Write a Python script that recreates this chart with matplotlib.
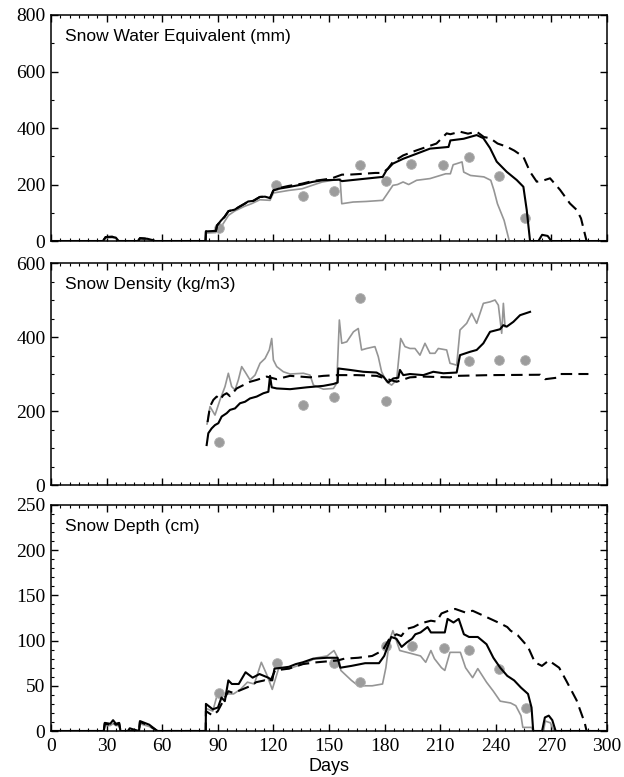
import matplotlib as mpl

mpl.use("Agg")

import matplotlib.pyplot as plt
from matplotlib.ticker import MultipleLocator

mpl.rcParams.update(
    {
        "font.family": "Liberation Serif",
        "font.size": 14,
        "axes.linewidth": 1.1,
        "xtick.direction": "in",
        "ytick.direction": "in",
        "xtick.top": True,
        "ytick.right": True,
        "xtick.major.size": 5,
        "ytick.major.size": 5,
        "xtick.minor.size": 2.5,
        "ytick.minor.size": 2.5,
        "xtick.major.width": 1.0,
        "ytick.major.width": 1.0,
        "xtick.minor.width": 0.8,
        "ytick.minor.width": 0.8,
    }
)

SANS = "Liberation Sans"
GRAY = "#959595"
DOT = "#9c9c9c"

# ---- Snow water equivalent (mm) ----
swe_solid_days = [0, 28, 29.5, 33, 35, 36.5, 47, 48, 52, 55, 56, 83.4, 83.6, 89, 89.6, 91.8, 93.6,
                  95.8, 99.1, 101.3, 104.5, 106.4, 109.1, 112.7, 115.5, 118.2, 120, 122.7, 128.2,
                  135.5, 140.9, 146.4, 155.5, 157, 179, 181, 184.5, 190, 197.3, 204.5, 214.5, 215.5,
                  222.7, 229.7, 233.3, 236.9, 240.5, 245.9, 251.3, 254.9, 256.7, 258.5, 263, 265,
                  268, 270, 300]
swe_solid_vals = [0, 0, 14, 15, 12, 0, 0, 10, 8, 3, 0, 0, 34, 36, 55, 73, 85,
                  106, 111, 120, 132, 140, 142, 156, 157, 152, 179, 185, 191,
                  200, 209, 215, 217, 212, 227, 250, 274, 291, 309, 327, 333, 356,
                  362, 375, 364, 329, 281, 245, 216, 192, 110, 0, 0, 22,
                  18, 0, 0]

swe_dash_days = [0, 28, 29.5, 33, 35, 36.5, 47, 48, 52, 55, 56, 83.4, 83.6, 89, 89.6, 91.8, 93.6,
                 95.8, 99.1, 101.3, 104.5, 106.4, 109.1, 112.7, 115.5, 118.2, 120, 122.7, 128.2,
                 135.5, 140.9, 150, 152, 157, 161, 166, 175, 179, 181.8, 184.5, 190, 197.3, 208,
                 213.5, 215.5, 220.7, 225, 229.7, 233.6, 236.9, 241, 245.9, 250, 254.9, 258.5,
                 262.1, 266, 269.3, 274.7, 280, 283.7, 286, 289, 300]
swe_dash_vals = [0, 0, 14, 15, 12, 0, 0, 10, 8, 3, 0, 0, 34, 36, 55, 73, 85,
                 106, 111, 120, 132, 140, 142, 156, 157, 152, 179, 187, 195,
                 203, 212, 220, 223, 235, 235, 237, 241, 241, 256, 280, 303, 321, 345,
                 381, 378, 387, 380, 387, 368, 364, 345, 334, 320, 298, 245,
                 210, 215, 222, 181, 133, 110, 80, 0, 0]

swe_gray_days = [0, 28, 29.5, 33, 35, 36.5, 47, 48, 52, 55, 56, 83.4, 83.6, 89, 91.8, 95.8, 99.1,
                 104.5, 108.2, 112.7, 118.2, 120, 128.2, 135.5, 140.9, 146.4, 154, 156, 156.9,
                 163, 170, 179, 180.9, 184.5, 187, 190, 193, 197.3, 204.5, 213, 215.5, 217, 219,
                 221.8, 222.7, 226.4, 233.6, 237.3, 239, 240.9, 244.5, 247.3, 300]
swe_gray_vals = [0, 0, 11, 12, 9, 0, 0, 8, 6, 2, 0, 0, 28, 30, 50, 91, 106,
                 123, 132, 146, 144, 170, 179, 185, 197, 209, 217, 220, 132,
                 138, 140, 144, 162, 197, 200, 209, 200, 215, 221, 238, 238, 270, 274,
                 280, 244, 232, 227, 215, 180, 132, 73, 0, 0]

swe_obs_days = [90.7, 121.4, 135.9, 152.7, 166.7, 180.8, 194.4, 211.4, 225.7, 241.6, 255.9]
swe_obs_vals = [47, 198, 159, 177, 269, 212, 273, 270, 299, 230, 83]

# ---- Snow density (kg/m3) ----
den_solid_days = [84, 84.9, 86.7, 88.5, 90.3, 92.1, 94.8, 96.6, 99.3, 102, 104.7, 107.4, 111,
                  114.6, 117.3, 118.2, 119.1, 121.8, 129, 138, 147, 152.4, 154.7, 155, 161.4,
                  168.5, 175.7, 179.3, 182, 184.7, 187.4, 188.3, 190.1, 193.7, 200.9, 206.3,
                  211.7, 218.9, 220.7, 226.1, 229.7, 233.3, 236.9, 242.3, 244.1, 245.9, 249.5,
                  253.1, 258.5]
den_solid_vals = [108, 140, 153, 162, 167, 185, 194, 203, 207, 221, 225, 234, 239,
                  248, 252, 295, 264, 261, 259, 264, 268, 273, 277, 315, 311,
                  306, 304, 293, 277, 288, 290, 311, 297, 300, 297, 306,
                  302, 304, 351, 360, 365, 383, 414, 421, 432, 428, 441,
                  459, 468]

den_dash_days = [84.5, 85.8, 87.6, 89.4, 91.2, 93, 94.8, 96.6, 100.2, 103.8, 107.4, 111, 116.4,
                 121.8, 129, 139.8, 147, 154.2, 165, 175.7, 183, 186.5, 193.7, 200.9, 215.3,
                 218.9, 236.9, 264, 266.6, 273, 274.7, 290]
den_dash_vals = [170, 212, 230, 239, 230, 243, 248, 240, 261, 270, 279, 284, 293,
                 286, 295, 291, 295, 297, 297, 295, 284, 279, 291, 293, 291,
                 295, 297, 298, 286, 290, 300, 300]

den_gray_days = [84.2, 85.8, 88.5, 91.2, 93.9, 95.7, 97.5, 99.3, 101.1, 102.9, 104.7, 107.4,
                 110.1, 112.8, 115.5, 117.8, 119.1, 120, 121.8, 125.4, 129, 136.2, 139.8, 141.6,
                 147, 152.4, 154.2, 155.6, 156.9, 159.6, 163.2, 165.8, 167.6, 170.3, 174.8,
                 176.6, 178.4, 181.1, 183.8, 186.5, 188.7, 191, 193.7, 196.4, 199.1, 201.8,
                 204.5, 207.2, 209, 213.5, 215.3, 218.9, 220.7, 224.3, 227, 229.7, 233.3, 236.9,
                 239.6, 241.4, 243.2, 244.1, 245]
den_gray_vals = [165, 212, 189, 230, 266, 302, 266, 257, 284, 320, 306, 284,
                 297, 329, 342, 365, 396, 338, 320, 306, 300, 302, 297, 270,
                 259, 261, 275, 446, 383, 387, 414, 423, 365, 369, 374,
                 347, 306, 279, 270, 284, 396, 374, 369, 369, 351, 383,
                 356, 356, 369, 365, 329, 324, 419, 437, 464, 437, 491, 495,
                 500, 486, 410, 491, 428]

den_obs_days = [90.8, 135.9, 152.7, 166.7, 180.8, 225.7, 241.6, 255.9]
den_obs_vals = [117, 216, 238, 505, 227, 335, 338, 338]

# ---- Snow depth (cm) ----
dep_solid_days = [0, 28.5, 29, 32, 33.5, 35, 36.8, 37.5, 41.5, 42.5, 44, 47.5, 48, 53, 57.4,
                  83.5, 83.6, 87.3, 90.1, 92, 93.8, 95.7, 97.6, 101.3, 105, 108.8, 112.5, 117.2,
                  119.4, 120.6, 124.7, 128.4, 132.1, 135.9, 141.5, 149, 154.6, 156.1, 162.1,
                  169.5, 177, 179.8, 183.6, 186.4, 189.2, 192, 194.8, 196.6, 199.4, 203.2, 205,
                  212.5, 214, 217.2, 220, 222.8, 225.6, 230.3, 235, 238.7, 242.4, 246.2, 249.9,
                  253.6, 257.4, 259.3, 260.2, 265, 266.5, 268.6, 270.5, 272.3, 300]
dep_solid_vals = [0, 0, 9, 8, 12, 8, 9, 0, 0, 3, 2, 0, 11, 7, 0,
                  0, 30, 24, 26, 37, 33, 56, 52, 52, 65, 59, 63, 59,
                  56, 69, 70, 71, 74, 76, 80, 81, 81, 70, 72,
                  75, 75, 83, 104, 102, 93, 98, 102, 107, 109, 115, 109,
                  109, 124, 120, 124, 107, 104, 104, 96, 81, 70, 61, 56,
                  48, 41, 26, 0, 0, 15, 17, 12, 0, 0]

dep_dash_days = [0, 28.5, 29, 32, 33.5, 35, 36.8, 37.5, 47.5, 48, 53, 57.4, 83.5, 83.6, 87.3,
                 90, 95.7, 98.5, 107.9, 110.7, 115.3, 118.1, 120.9, 128.4, 135.9, 143.4, 154.6,
                 158.3, 165.8, 173.3, 178.9, 182.6, 186.4, 189, 192, 195.7, 199.4, 205, 208,
                 210.7, 214.4, 218.1, 223.7, 227.5, 235, 242.4, 246.2, 248, 251.8, 257.4, 261.1,
                 264.9, 268.6, 274.2, 278.2, 283.6, 288, 289, 300]
dep_dash_vals = [0, 0, 8, 7, 10, 7, 8, 0, 0, 10, 6, 0, 0, 22, 17,
                 22, 44, 42, 50, 54, 56, 54, 67, 69, 74, 76, 78,
                 80, 81, 83, 89, 102, 107, 105, 113, 115, 119, 122, 121,
                 130, 133, 135, 131, 133, 126, 119, 115, 111, 106, 93, 76,
                 72, 78, 70, 55, 34, 9, 0, 0]

dep_gray_days = [0, 28.5, 29, 32, 33.5, 35, 36.8, 37.5, 47.5, 48, 53, 57.4, 83.5, 83.6, 87.3,
                 90.1, 94.8, 98.5, 102.2, 106, 109.7, 113.5, 116.3, 119.4, 122.8, 128.4, 135.9,
                 143.4, 149, 152.7, 155.5, 156.4, 162.1, 165.8, 173.3, 178.9, 180.7, 182.6,
                 184.5, 188.2, 192, 195.7, 199.4, 202.2, 205, 206.9, 210.7, 212.5, 215.3, 220.9,
                 223.7, 227.5, 230.3, 235, 238.7, 242.4, 248, 250.8, 253.6, 254.6, 259.3, 260.2,
                 265.8, 266.7, 269.5, 271.4, 300]
dep_gray_vals = [0, 0, 6, 6, 8, 6, 6, 0, 0, 8, 5, 0, 0, 25, 22,
                 43, 41, 41, 46, 54, 52, 76, 63, 46, 69, 69, 74,
                 81, 83, 89, 78, 67, 56, 50, 50, 52, 70, 100,
                 111, 89, 87, 85, 83, 76, 89, 80, 70, 67, 87, 87,
                 70, 59, 69, 54, 44, 33, 31, 28, 17, 4, 4, 0,
                 0, 11, 9, 0, 0]

dep_obs_days = [90.8, 121.9, 152.7, 166.9, 180.6, 194.8, 211.8, 225.8, 241.6, 256.5]
dep_obs_vals = [42, 75, 75, 54, 94, 94, 92, 90, 69, 25]

PANELS = [
    ("Snow Water Equivalent (mm)", (0, 800), 200, 100,
     (swe_solid_days, swe_solid_vals), (swe_dash_days, swe_dash_vals),
     (swe_gray_days, swe_gray_vals), (swe_obs_days, swe_obs_vals)),
    ("Snow Density (kg/m3)", (0, 600), 200, 50,
     (den_solid_days, den_solid_vals), (den_dash_days, den_dash_vals),
     (den_gray_days, den_gray_vals), (den_obs_days, den_obs_vals)),
    ("Snow Depth (cm)", (0, 250), 50, 10,
     (dep_solid_days, dep_solid_vals), (dep_dash_days, dep_dash_vals),
     (dep_gray_days, dep_gray_vals), (dep_obs_days, dep_obs_vals)),
]

# axes boxes in figure fractions (left, bottom, width, height)
BOXES = [
    (0.0817, 0.6898, 0.8910, 0.2909),
    (0.0817, 0.3758, 0.8910, 0.2857),
    (0.0817, 0.0592, 0.8910, 0.2909),
]

fig = plt.figure(figsize=(6.24, 7.77), dpi=100)

for i, (title, ylim, ymajor, yminor, solid, dash, gray, obs) in enumerate(PANELS):
    ax = fig.add_axes(BOXES[i])
    ax.plot(gray[0], gray[1], color=GRAY, lw=1.2, zorder=2)
    ax.plot(obs[0], obs[1], "o", color=DOT, ms=7, mec="#b0b0b0", mew=0.6, zorder=3)
    ax.plot(dash[0], dash[1], color="black", lw=1.5, dashes=(5.5, 3), zorder=4)
    ax.plot(solid[0], solid[1], color="black", lw=1.5, zorder=5)

    ax.set_xlim(0, 300)
    ax.set_ylim(*ylim)
    ax.xaxis.set_major_locator(MultipleLocator(30))
    ax.xaxis.set_minor_locator(MultipleLocator(5))
    ax.yaxis.set_major_locator(MultipleLocator(ymajor))
    ax.yaxis.set_minor_locator(MultipleLocator(yminor))
    ax.tick_params(axis="y", which="major", pad=4, labelsize=14)
    ax.tick_params(axis="x", which="major", pad=5, labelsize=14)
    if i < 2:
        ax.tick_params(axis="x", labelbottom=False)
    ax.text(0.025, 0.905, title, transform=ax.transAxes, family=SANS,
            fontsize=12.5, ha="left", va="center")
    if i == 2:
        ax.set_xlabel("Days", family=SANS, fontsize=13, labelpad=2)

fig.savefig("out.png", dpi=100)
